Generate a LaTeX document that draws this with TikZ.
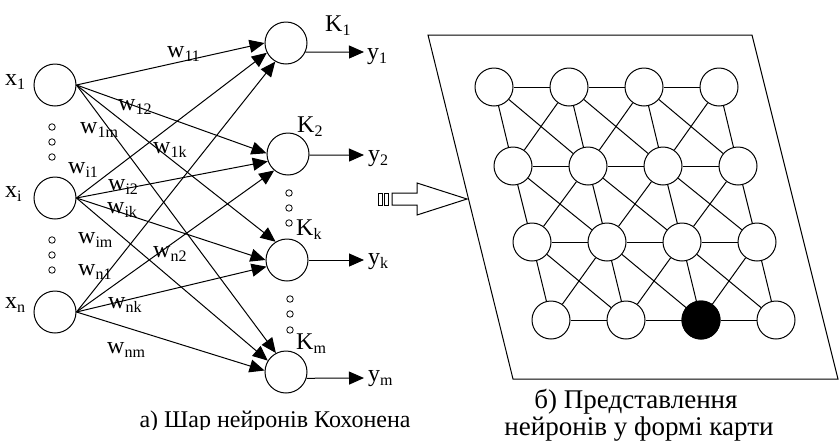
\documentclass[tikz,border=0pt]{standalone}
\usepackage{fontspec}
\setmainfont{Liberation Serif}
\usetikzlibrary{arrows.meta}
\newcommand{\sbs}[1]{\raisebox{-0.2em}{\fontsize{16}{16}\selectfont #1}}
\tikzset{
  neuron/.style={circle,draw,line width=1pt,minimum size=42pt,inner sep=0pt,fill=white},
  gnode/.style={circle,draw,line width=1pt,minimum size=38pt,inner sep=0pt,fill=white},
  dotc/.style={circle,draw,line width=0.8pt,minimum size=6.5pt,inner sep=0pt},
  conn/.style={line width=1pt,-{Triangle[length=15pt,width=13pt]}},
  lbl/.style={anchor=base west,inner sep=0pt,font=\fontsize{24}{28}\selectfont},
  captxt/.style={anchor=base,inner sep=0pt,font=\fontsize{24}{28}\selectfont},
  captb/.style={anchor=base,inner sep=0pt,font=\fontsize{27}{30}\selectfont},
  gedge/.style={line width=1pt}
}
\begin{document}
\begin{tikzpicture}[x=1pt,y=-1pt]
\useasboundingbox (0,0) rectangle (839,445);
% inputs
\node[neuron] (x1) at (55,85) {};
\node[neuron] (xi) at (55,198) {};
\node[neuron] (xn) at (55,312) {};
% outputs
\node[neuron] (K1) at (286,43) {};
\node[neuron] (K2) at (288,154) {};
\node[neuron] (Kk) at (287,260) {};
\node[neuron] (Km) at (286,372) {};
% connections
\draw[conn] (x1.east) -- (K1.180);
\draw[conn] (x1.east) -- (K2.178);
\draw[conn] (x1.east) -- (Kk.122);
\draw[conn] (x1.east) -- (Km.118);
\draw[conn] (xi.east) -- (K1.207);
\draw[conn] (xi.east) -- (K2.200);
\draw[conn] (xi.east) -- (Kk.180);
\draw[conn] (xi.east) -- (Km.148);
\draw[conn] (xn.east) -- (K1.240);
\draw[conn] (xn.east) -- (K2.230);
\draw[conn] (xn.east) -- (Kk.198);
\draw[conn] (xn.east) -- (Km.176);
% outputs arrows
\coordinate (t1) at (364,52);
\coordinate (t2) at (364,155);
\coordinate (tk) at (364,260);
\coordinate (tm) at (364,378);
\draw[conn] (K1.-25) -- (t1);
\draw[conn] (K2.-3) -- (t2);
\draw[conn] (Kk.0) -- (tk);
\draw[conn] (Km.-17) -- (tm);
% labels
\node[lbl] (lK1) at (325,31) {K\sbs{1}};
\node[lbl] (ly1) at (367,59) {y\sbs{1}};
\node[lbl] (lK2) at (297,132) {K\sbs{2}};
\node[lbl] (ly2) at (368,161) {y\sbs{2}};
\node[lbl] (lKk) at (296,235) {K\sbs{k}};
\node[lbl] (lyk) at (368,264) {y\sbs{k}};
\node[lbl] (lKm) at (296,349) {K\sbs{m}};
\node[lbl] (lym) at (368,381) {y\sbs{m}};
\node[lbl] (lx1) at (5,85) {x\sbs{1}};
\node[lbl] (lxi) at (5,197) {x\sbs{i}};
\node[lbl] (lxn) at (5,308) {x\sbs{n}};
\node[lbl] (w11) at (167,57) {w\sbs{11}};
\node[lbl] (w12) at (118,110) {w\sbs{12}};
\node[lbl] (w1m) at (80,133) {w\sbs{1m}};
\node[lbl] (w1k) at (153,153) {w\sbs{1k}};
\node[lbl] (wi1) at (68,173) {w\sbs{i1}};
\node[lbl] (wi2) at (108,190) {w\sbs{i2}};
\node[lbl] (wik) at (107,213) {w\sbs{ik}};
\node[lbl] (wim) at (78,243) {w\sbs{im}};
\node[lbl] (wn2) at (153,257) {w\sbs{n2}};
\node[lbl] (wn1) at (78,275) {w\sbs{n1}};
\node[lbl] (wnk) at (108,308) {w\sbs{nk}};
\node[lbl] (wnm) at (107,353) {w\sbs{nm}};
% dots
\foreach \yy [count=\i] in {127,142,157} \node[dotc] (da\i) at (52,\yy) {};
\foreach \yy [count=\i] in {240,255,270} \node[dotc] (db\i) at (52,\yy) {};
\foreach \yy [count=\i] in {193,208,223} \node[dotc] (dc\i) at (289,\yy) {};
\foreach \yy [count=\i] in {299,314,330} \node[dotc] (dd\i) at (290,\yy) {};
% hollow arrow
\draw[line width=1pt] (392,193) -- (417,193) -- (417,183) -- (467,199) -- (417,215) -- (417,205) -- (392,205) -- cycle;
\draw[line width=1pt] (378,193) rectangle (382,205);
\draw[line width=1pt] (384,193) rectangle (388,205);
% map
\draw[line width=1pt] (428,35) -- (752,35) -- (838,379) -- (513,379) -- cycle;
\foreach \x [count=\c] in {494,569,644,719} \coordinate (p1\c) at (\x,87);
\foreach \x [count=\c] in {513,588,663,738} \coordinate (p2\c) at (\x,166);
\foreach \x [count=\c] in {532,607,682,757} \coordinate (p3\c) at (\x,242);
\foreach \x [count=\c] in {551,626,701,776} \coordinate (p4\c) at (\x,320);
\foreach \r in {1,2,3,4} \foreach \c in {1,2,3,4} {
  \node[gnode] (g\r\c) at (p\r\c) {};
}
\node[gnode,fill=black] at (g43) {};
\foreach \r in {1,2,3,4} \foreach \c/\d in {1/2,2/3,3/4} \draw[gedge] (g\r\c) -- (g\r\d);
\foreach \r/\s in {1/2,2/3,3/4} {
  \foreach \c in {1,2,3,4} \draw[gedge] (g\r\c) -- (g\s\c);
  \foreach \c/\d in {1/2,2/3,3/4} {
    \draw[gedge] (g\r\c) -- (g\s\d);
    \draw[gedge] (g\r\d) -- (g\s\c);
  }
}
% captions
\begin{scope}
\clip (0,0) rectangle (470,429);
\node[captxt] (ca) at (275,427) {а) Шар нейронів Кохонена};
\end{scope}
\node[captb] (cb1) at (636,408) {б) Представлення};
\node[captb] (cb2) at (639,435) {нейронів у формі карти};
\end{tikzpicture}
\end{document}
